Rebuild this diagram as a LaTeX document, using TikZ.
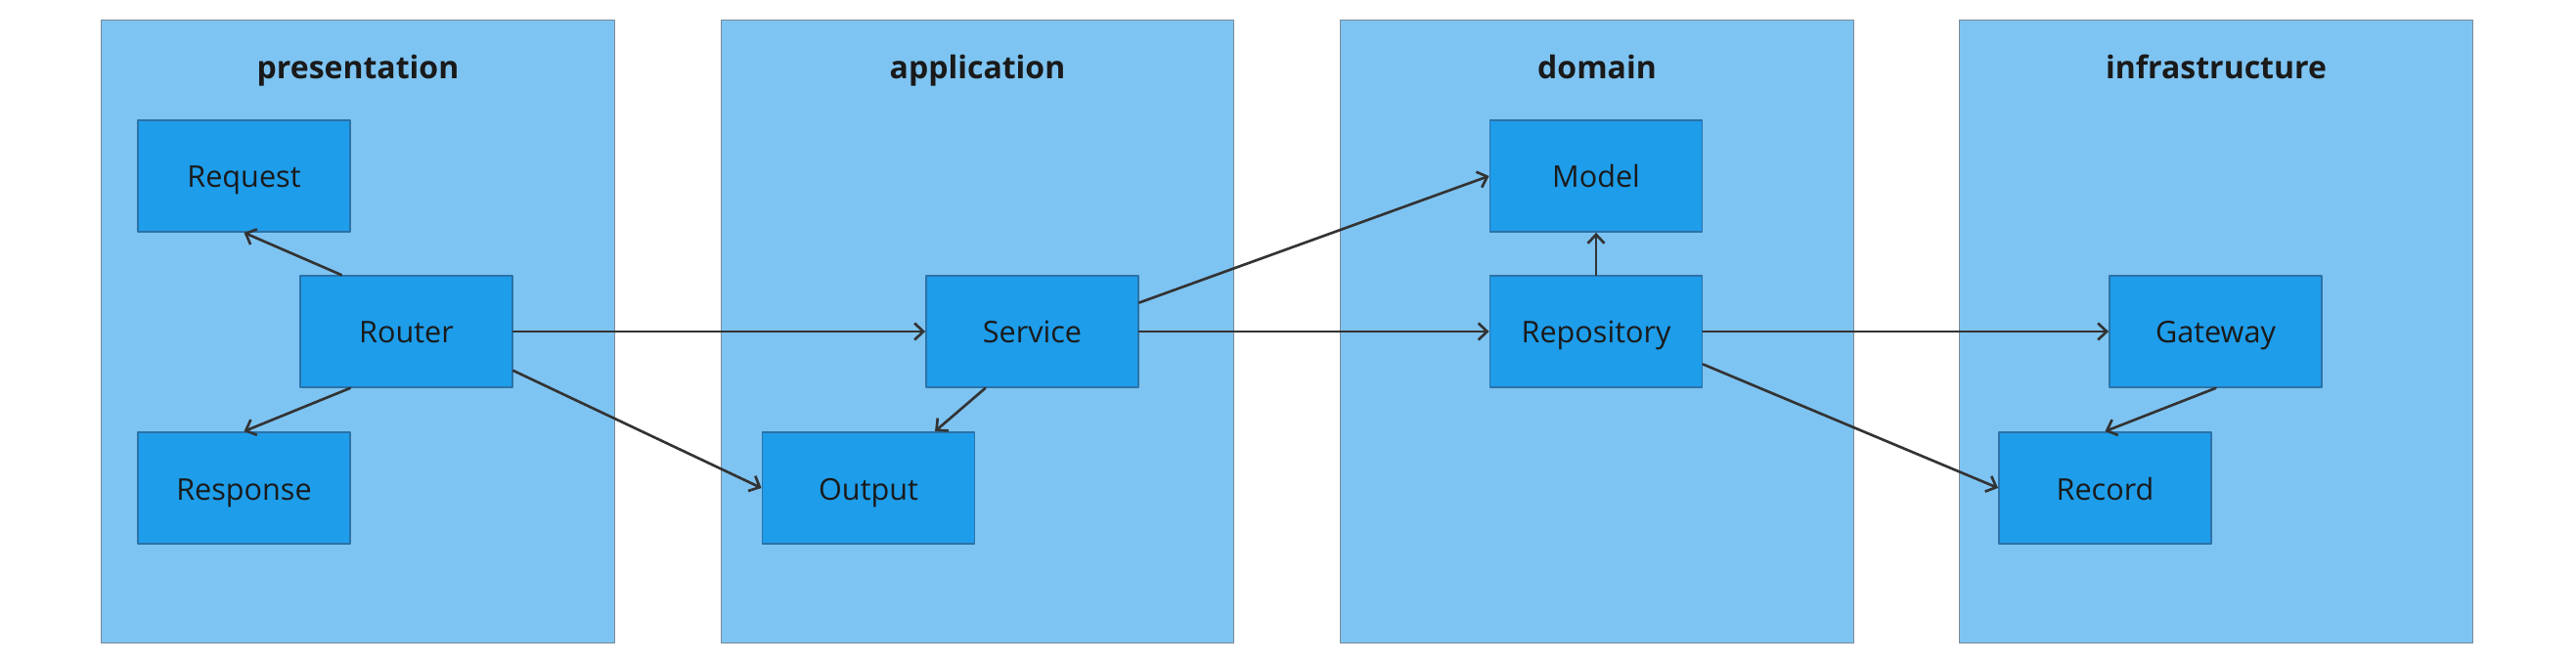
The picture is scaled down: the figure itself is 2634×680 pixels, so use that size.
\documentclass[tikz,border=0pt]{standalone}
\usepackage{fontspec}
\setmainfont{Open Sans}
\usetikzlibrary{arrows.meta}
\definecolor{layerfill}{HTML}{7EC4F2}
\definecolor{layerline}{HTML}{7A8896}
\definecolor{blockfill}{HTML}{1E9DEA}
\definecolor{blockline}{HTML}{2C72A8}
\definecolor{ink}{HTML}{1A1A1A}
\definecolor{wire}{HTML}{333333}
\begin{document}
\begin{tikzpicture}[x=0.01cm, y=-0.01cm, line join=round, line cap=round,
		>={Straight Barb[length=0.9mm,width=1.7mm]},
		layer/.style={draw=layerline, fill=layerfill, line width=0.35pt, minimum width=5.24cm, minimum height=6.36cm, inner sep=0pt},
		title/.style={anchor=base, text=ink, font=\fontsize{9.1}{11}\selectfont\bfseries},
		block/.style={draw=blockline, fill=blockfill, line width=0.5pt, minimum width=2.17cm, minimum height=1.14cm, inner sep=0pt, text=ink, text height=0.30cm, text depth=0.06cm, font=\fontsize{8.7}{10}\selectfont},
		link/.style={->, draw=wire, line width=0.75pt}]
		\useasboundingbox (0,0) rectangle (2634,680);
		% layers
		\foreach \n/\x in {presentation/366,application/999.5,domain/1633,infrastructure/2266}
		{\node[layer] (\n) at (\x,339) {};
			\node[title] at (\x,81) {\n};}
		% blocks
		\foreach \n/\x/\y/\t in {request/249.5/180/Request, router/415.5/339/Router, response/249.5/499/Response,
			service/1055.5/339/Service, output/888/499/Output,
			model/1632/180/Model, repository/1632/339/Repository,
			gateway/2265.5/339/Gateway, record/2152.5/499/Record}
		\node[block] (\n) at (\x,\y) {\t};
		% dependencies
		\draw[link] ([xshift=-0.665cm]router.north) -- (request.south);
		\draw[link] ([xshift=-0.575cm]router.south) -- (response.north);
		\draw[link] (router.east) -- (service.west);
		\draw[link] ([yshift=-0.40cm]router.east) -- (output.west);
		\draw[link] ([yshift=0.295cm]service.east) -- (model.west);
		\draw[link] ([xshift=-0.48cm]service.south) -- ([xshift=0.68cm]output.north);
		\draw[link] (service.east) -- (repository.west);
		\draw[link] (repository.north) -- (model.south);
		\draw[link] (repository.east) -- (gateway.west);
		\draw[link] ([yshift=-0.335cm]repository.east) -- (record.west);
		\draw[link] (gateway.south) -- (record.north);
\end{tikzpicture}
\end{document}
